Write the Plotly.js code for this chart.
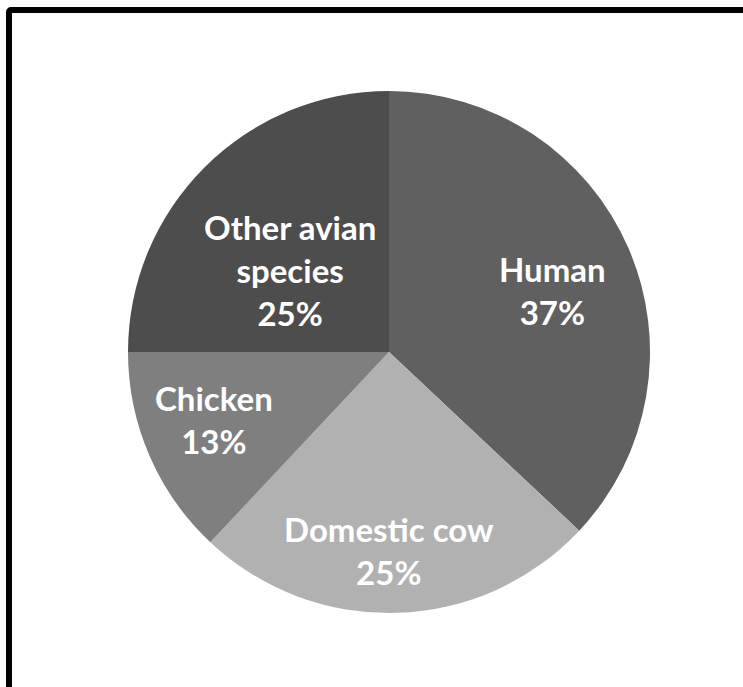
<!DOCTYPE html>
<html>
<head>
<meta charset="utf-8">
<script src="https://cdn.plot.ly/plotly-3.0.1.min.js"></script>
<style>
  html, body { margin: 0; padding: 0; background: #ffffff; overflow: hidden; }
  #wrap { position: relative; width: 743px; height: 687px; }
  #chart { position: absolute; left: 0; top: 0; width: 743px; height: 687px; }
  #frame { position: absolute; left: 6px; top: 7px; width: 800px; height: 800px;
           border: 6px solid #000; border-radius: 5px; pointer-events: none; box-sizing: border-box; }
</style>
</head>
<body>
<div id="wrap">
  <div id="chart"></div>
  <div id="frame"></div>
</div>
<script>
// Data
const categories = ["Human", "Domestic cow", "Chicken", "Other avian species"];
const values = [37, 25, 13, 25];
const labelLines = ["Human", "Domestic cow", "Chicken", "Other avian<br>species"];
const sliceColors = ["#606060", "#b1b1b1", "#7f7f7f", "#4d4d4d"];

// Label placement (style): radius fraction and angle offset (deg) per slice
const labelRadius = [0.67, 0.76, 0.72, 0.49];
const labelAngleOffset = [2.7, 1.8, 2.3, -5.4];

const W = 743, H = 687;
const cx = 389, cy = 352, R = 261;

const total = values.reduce((a, b) => a + b, 0);
const annotations = [];
let cum = 0;
values.forEach((v, i) => {
  const mid = (cum + v / 2) / total * 360 + labelAngleOffset[i];
  cum += v;
  const th = mid * Math.PI / 180;
  const r = labelRadius[i] * R;
  const px = cx + r * Math.sin(th);
  const py = cy - r * Math.cos(th);
  const pct = Math.round(v / total * 100);
  annotations.push({
    xref: "paper", yref: "paper",
    x: px / W, y: 1 - py / H,
    xanchor: "center", yanchor: "middle",
    showarrow: false,
    text: "<b>" + labelLines[i] + "<br>" + pct + "%</b>",
    font: { family: "Lato, 'Open Sans', sans-serif", size: 33, color: "#ffffff" },
    align: "center"
  });
});

const trace = {
  type: "pie",
  labels: categories,
  values: values,
  sort: false,
  direction: "clockwise",
  rotation: 0,
  marker: { colors: sliceColors, line: { width: 0 } },
  textinfo: "none",
  hoverinfo: "label+percent",
  showlegend: false,
  domain: { x: [(cx - R) / W, (cx + R) / W], y: [1 - (cy + R) / H, 1 - (cy - R) / H] }
};

const layout = {
  width: W, height: H,
  margin: { l: 0, r: 0, t: 0, b: 0 },
  paper_bgcolor: "#ffffff",
  showlegend: false,
  annotations: annotations
};

Plotly.newPlot("chart", [trace], layout, { displayModeBar: false, staticPlot: true });
</script>
</body>
</html>
